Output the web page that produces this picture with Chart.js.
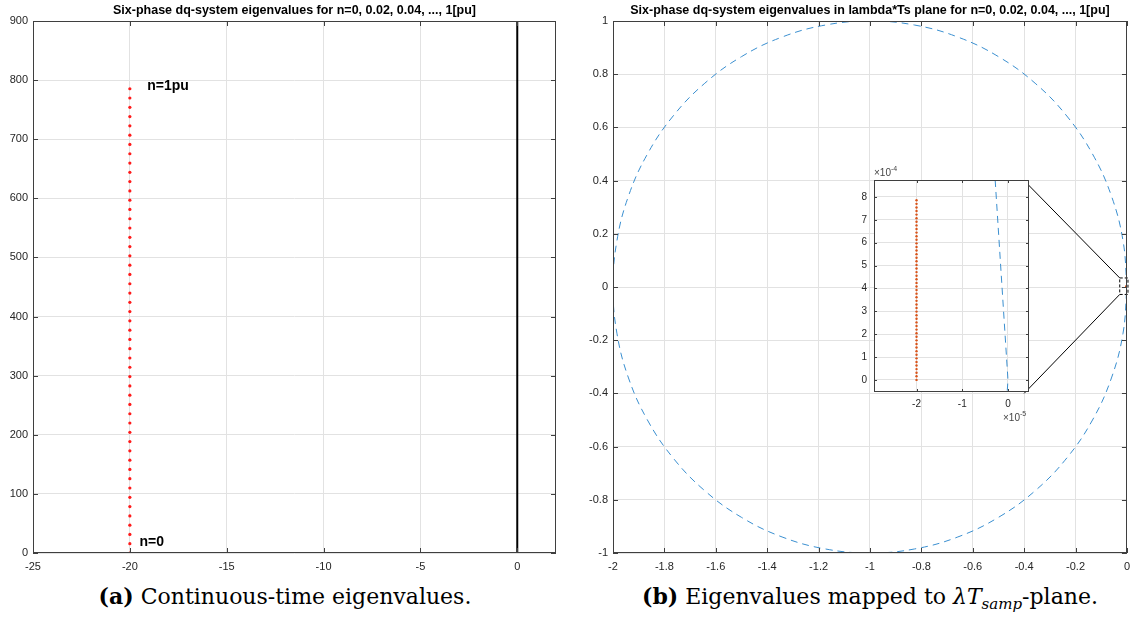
<!DOCTYPE html>
<html>
<head>
<meta charset="utf-8">
<script src="https://cdn.jsdelivr.net/npm/chart.js@4.4.1/dist/chart.umd.min.js"></script>
<style>
  body { margin: 0; background: #fff; width: 1137px; height: 628px; overflow: hidden; position: relative; }
  canvas { position: absolute; }
  #leftChart { left: 0; top: 0; }
  #rightChart { left: 575px; top: 0; }
  #insetChart { left: 840px; top: 160px; }
  .caption { position: absolute; top: 583px; font-family: 'DejaVu Serif', serif; font-size: 22px; color: #000; text-align: center; white-space: nowrap; }
  .caption sub { font-size: 15px; }
</style>
</head>
<body>
<canvas id="leftChart" width="566" height="576"></canvas>
<canvas id="rightChart" width="562" height="576"></canvas>
<canvas id="insetChart" width="200" height="270"></canvas>
<div class="caption" style="left:0; width:570px;"><b>(a)</b> Continuous-time eigenvalues.</div>
<div class="caption" style="left:590px; width:560px;"><b>(b)</b> Eigenvalues mapped to <i>λT</i><sub><i>samp</i></sub>-plane.</div>

<script>
// --- data ---

// eigenvalues for n = 0, 0.02, ..., 1 pu (real part is the same for all)
const eigReal = -20;
const eigImag = [
  0, 15.7, 31.4, 47.1, 62.8, 78.5, 94.2, 110.0, 125.7, 141.4,
  157.1, 172.8, 188.5, 204.2, 219.9, 235.6, 251.3, 267.0, 282.7, 298.5,
  314.2, 329.9, 345.6, 361.3, 377.0, 392.7, 408.4, 424.1, 439.8, 455.5,
  471.2, 487.0, 502.7, 518.4, 534.1, 549.8, 565.5, 581.2, 596.9, 612.6,
  628.3, 644.0, 659.7, 675.4, 691.2, 706.9, 722.6, 738.3, 754.0, 769.7,
  785.4
];
// imaginary axis (Re = 0) drawn in black
const imagAxisY = [0, 900];

const leftXTicks = [-25, -20, -15, -10, -5, 0];
const leftYTicks = [0, 100, 200, 300, 400, 500, 600, 700, 800, 900];

const noteText = ['n=1pu', 'n=0'];
const noteX = [-19.1, -19.5];
const noteY = [790, 19];

// sample time used to map eigenvalues into lambda*Ts plane
const Ts = 1e-6;

// stability circle |1 + lambda*Ts| = 1 (read every 10 degrees)
const circleX = [0, -0.0152, -0.0603, -0.1340, -0.2340, -0.3572, -0.5, -0.6580, -0.8264, -1,
  -1.1736, -1.3420, -1.5, -1.6428, -1.7660, -1.8660, -1.9397, -1.9848, -2,
  -1.9848, -1.9397, -1.8660, -1.7660, -1.6428, -1.5, -1.3420, -1.1736, -1,
  -0.8264, -0.6580, -0.5, -0.3572, -0.2340, -0.1340, -0.0603, -0.0152, 0];
const circleY = [0, 0.1736, 0.3420, 0.5, 0.6428, 0.7660, 0.8660, 0.9397, 0.9848, 1,
  0.9848, 0.9397, 0.8660, 0.7660, 0.6428, 0.5, 0.3420, 0.1736, 0,
  -0.1736, -0.3420, -0.5, -0.6428, -0.7660, -0.8660, -0.9397, -0.9848, -1,
  -0.9848, -0.9397, -0.8660, -0.7660, -0.6428, -0.5, -0.3420, -0.1736, 0];

const rightXTicks = [-2, -1.8, -1.6, -1.4, -1.2, -1, -0.8, -0.6, -0.4, -0.2, 0];
const rightYTicks = [-1, -0.8, -0.6, -0.4, -0.2, 0, 0.2, 0.4, 0.6, 0.8, 1];

// circle segment seen inside the zoomed inset
const insetCurveX = [-0.28e-5, 0, -0.28e-5];
const insetCurveY = [8.74e-4, 0, -8.74e-4];

const insetXTicks = [-2e-5, -1e-5, 0];
const insetYTicks = [0, 1e-4, 2e-4, 3e-4, 4e-4, 5e-4, 6e-4, 7e-4, 8e-4];

// --- style ---
const FONT = '"Liberation Sans", Arial, sans-serif';
const gridColor = '#e2e2e2';
const tickColor = '#262626';
const frameColor = '#3f3f3f';
const blue = '#3a8fd0';

function pts(xs, ys) {
  return xs.map((x, i) => ({ x: x, y: ys[i] }));
}

function axis(min, max, ticks, fmt, size, fontSize, pad) {
  return {
    type: 'linear',
    min: min,
    max: max,
    afterBuildTicks: s => { s.ticks = ticks.map(v => ({ value: v })); },
    afterFit: s => {
      if (s.isHorizontal()) s.height = size; else s.width = size;
    },
    grid: { color: gridColor, drawTicks: false },
    border: { display: false },
    ticks: {
      color: tickColor,
      font: { family: FONT, size: fontSize },
      padding: pad,
      maxRotation: 0,
      autoSkip: false,
      callback: fmt
    }
  };
}

const fmt1 = v => String(Math.round(v * 10) / 10);

// box, inward ticks, title and text notes, MATLAB style
const matlabFrame = {
  id: 'matlabFrame',
  beforeDraw(chart, args, opts) {
    if (!opts.fillArea) return;
    const a = chart.chartArea;
    chart.ctx.save();
    chart.ctx.fillStyle = '#fff';
    chart.ctx.fillRect(a.left, a.top, a.width, a.height);
    chart.ctx.restore();
  },
  afterDraw(chart, args, opts) {
    const ctx = chart.ctx;
    const a = chart.chartArea;
    const sx = chart.scales.x, sy = chart.scales.y;
    const len = opts.tickLen || 5;
    ctx.save();
    ctx.strokeStyle = frameColor;
    ctx.lineWidth = 1;
    ctx.strokeRect(Math.round(a.left) + 0.5, Math.round(a.top) + 0.5, Math.round(a.width) - 1, Math.round(a.height) - 1);
    ctx.beginPath();
    sx.ticks.forEach(t => {
      const px = Math.round(sx.getPixelForValue(t.value)) + 0.5;
      ctx.moveTo(px, a.bottom); ctx.lineTo(px, a.bottom - len);
      ctx.moveTo(px, a.top); ctx.lineTo(px, a.top + len);
    });
    sy.ticks.forEach(t => {
      const py = Math.round(sy.getPixelForValue(t.value)) + 0.5;
      ctx.moveTo(a.left, py); ctx.lineTo(a.left + len, py);
      ctx.moveTo(a.right, py); ctx.lineTo(a.right - len, py);
    });
    ctx.stroke();

    if (opts.title) {
      ctx.fillStyle = '#000';
      ctx.font = 'bold 12.5px ' + FONT;
      ctx.textAlign = 'center';
      ctx.textBaseline = 'alphabetic';
      ctx.fillText(opts.title, (a.left + a.right) / 2, a.top - 7);
    }
    if (opts.notes) {
      ctx.fillStyle = '#000';
      ctx.font = 'bold 14px ' + FONT;
      ctx.textAlign = 'left';
      ctx.textBaseline = 'middle';
      opts.notes.text.forEach((s, i) => {
        ctx.fillText(s, sx.getPixelForValue(opts.notes.x[i]), sy.getPixelForValue(opts.notes.y[i]));
      });
    }
    if (opts.exponents) {
      ctx.fillStyle = '#444';
      ctx.textBaseline = 'alphabetic';
      const drawExp = (x, y, exp) => {
        ctx.textAlign = 'left';
        ctx.font = '10px ' + FONT;
        ctx.fillText('\u00d710', x, y);
        const w = ctx.measureText('\u00d710').width;
        ctx.font = '7px ' + FONT;
        ctx.fillText(exp, x + w, y - 5);
      };
      drawExp(a.left, a.top - 4, '-4');
      drawExp(a.right - 26, a.bottom + 29, '-5');
    }
    ctx.restore();
  }
};

// dashed box around the origin and the lines leading to the inset
const zoomLink = {
  id: 'zoomLink',
  afterDatasetsDraw(chart, args, opts) {
    if (!opts.box) return;
    const ctx = chart.ctx;
    const sx = chart.scales.x, sy = chart.scales.y;
    const b = opts.box;
    const x0 = sx.getPixelForValue(b[0]), x1 = sx.getPixelForValue(b[2]);
    const y0 = sy.getPixelForValue(b[3]), y1 = sy.getPixelForValue(b[1]);
    ctx.save();
    ctx.strokeStyle = '#000';
    ctx.lineWidth = 1;
    ctx.beginPath();
    ctx.moveTo(sx.getPixelForValue(opts.corner[0]), sy.getPixelForValue(opts.corner[1]));
    ctx.lineTo(x0, y0);
    ctx.moveTo(sx.getPixelForValue(opts.corner[0]), sy.getPixelForValue(-opts.corner[1]));
    ctx.lineTo(x0, y1);
    ctx.stroke();
    ctx.setLineDash([3, 2]);
    ctx.strokeRect(x0, y0, x1 - x0, y1 - y0);
    ctx.restore();
  }
};

Chart.register(matlabFrame, zoomLink);

const commonPlugins = { legend: { display: false }, tooltip: { enabled: false } };

// (a) continuous-time eigenvalues
new Chart(document.getElementById('leftChart'), {
  type: 'scatter',
  data: {
    datasets: [
      {
        data: pts(imagAxisY.map(() => 0), imagAxisY),
        showLine: true,
        borderColor: '#000',
        borderWidth: 2,
        pointRadius: 0
      },
      {
        data: eigImag.map(v => ({ x: eigReal, y: v })),
        pointRadius: 1.6,
        pointBackgroundColor: '#ff1a1a',
        pointBorderWidth: 0
      }
    ]
  },
  options: {
    responsive: false,
    animation: false,
    events: [],
    layout: { padding: { top: 21, right: 10, left: 0, bottom: 0 } },
    scales: {
      x: axis(-25, 2, leftXTicks, v => String(v), 23, 11, 7),
      y: axis(0, 900, leftYTicks, v => String(v), 33, 11, 5)
    },
    plugins: Object.assign({}, commonPlugins, {
      matlabFrame: {
        title: 'Six-phase dq-system eigenvalues for n=0, 0.02, 0.04, ..., 1[pu]',
        notes: { text: noteText, x: noteX, y: noteY }
      }
    })
  }
});

// (b) mapped to lambda*Ts plane
new Chart(document.getElementById('rightChart'), {
  type: 'scatter',
  data: {
    datasets: [
      {
        data: pts(circleX, circleY),
        showLine: true,
        borderColor: blue,
        borderWidth: 1,
        borderDash: [7, 5],
        tension: 0.4,
        pointRadius: 0
      },
      {
        data: eigImag.map(v => ({ x: eigReal * Ts, y: v * Ts })),
        pointRadius: 1.3,
        pointBackgroundColor: '#d95319',
        pointBorderWidth: 0
      }
    ]
  },
  options: {
    responsive: false,
    animation: false,
    events: [],
    layout: { padding: { top: 21, right: 4, left: 0, bottom: 0 } },
    scales: {
      x: axis(-2, 0, rightXTicks, fmt1, 23, 11, 7),
      y: axis(-1, 1, rightYTicks, fmt1, 38, 11, 5)
    },
    plugins: Object.assign({}, commonPlugins, {
      matlabFrame: {
        title: 'Six-phase dq-system eigenvalues in lambda*Ts plane for n=0, 0.02, 0.04, ..., 1[pu]'
      },
      zoomLink: { box: [-0.028, -0.028, 0.004, 0.034], corner: [-0.4, 0.4] }
    })
  }
});

// zoomed inset near the origin
new Chart(document.getElementById('insetChart'), {
  type: 'scatter',
  data: {
    datasets: [
      {
        data: pts(insetCurveX, insetCurveY),
        showLine: true,
        borderColor: blue,
        borderWidth: 1,
        borderDash: [7, 5],
        pointRadius: 0
      },
      {
        data: eigImag.map(v => ({ x: eigReal * Ts, y: v * Ts })),
        pointRadius: 1.2,
        pointBackgroundColor: '#d95319',
        pointBorderWidth: 0
      }
    ]
  },
  options: {
    responsive: false,
    animation: false,
    events: [],
    layout: { padding: { top: 20, right: 11, left: 0, bottom: 0 } },
    scales: {
      x: axis(-2.93e-5, 0.46e-5, insetXTicks, v => String(Math.round(v * 1e5)), 38, 10, 6),
      y: axis(-0.53e-4, 8.74e-4, insetYTicks, v => String(Math.round(v * 1e4)), 34, 10, 7)
    },
    plugins: Object.assign({}, commonPlugins, {
      matlabFrame: { fillArea: true, tickLen: 3, exponents: true }
    })
  }
});
</script>
</body>
</html>
